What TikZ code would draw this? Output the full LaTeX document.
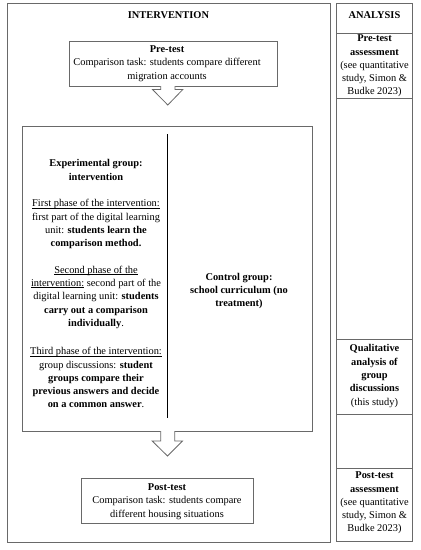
\documentclass[tikz,border=0pt]{standalone}
\usepackage{fontspec}
\setmainfont{Liberation Serif}
\newcommand\myul[1]{\setbox0\hbox{#1}\rlap{\rule[-1.3pt]{\wd0}{0.45pt}}\box0\relax}
\begin{document}
\begin{tikzpicture}[x=1pt,y=-1pt,
  frame/.style={draw=linegray,line width=0.8pt},
  boxnode/.style={draw=linegray,line width=0.8pt,inner sep=0pt},
  txt/.style={align=center,inner sep=0pt,font=\fontsize{10.4}{13.3}\selectfont},
  hollow/.style={draw=linegray,line width=0.8pt,fill=white},
  divider/.style={draw=black,line width=1.2pt}]
\definecolor{linegray}{RGB}{105,105,105}
\useasboundingbox (0,0) rectangle (421,550);
% outer frames
\draw[frame] (7.5,3.5) rectangle (330.5,542);
\draw[frame] (336.8,3.5) rectangle (412,541.5);
\draw[frame] (336.8,33) -- (412,33);
\draw[frame] (336.8,98.5) -- (412,98.5);
\draw[frame] (336.8,339) -- (412,339);
\draw[frame] (336.8,414) -- (412,414);
\draw[frame] (336.8,468) -- (412,468);
% headers
\node[txt] (hint) at (168.5,15) {\textbf{INTERVENTION}};
\node[txt] (hana) at (374.5,15) {\textbf{ANALYSIS}};
% pre-test box
\node[boxnode,minimum width=208pt,minimum height=45pt] (pre) at (173,63.5) {};
\node[txt] (pretxt) at (167,63.5) {\textbf{Pre-test}\\Comparison task: students compare different\\migration accounts};
% middle box
\node[boxnode,minimum width=289.3pt,minimum height=304.3pt] (mid) at (167.35,278.85) {};
\coordinate (divtop) at (167.5,134);
\coordinate (divbot) at (167.5,418);
\draw[divider] (divtop) -- (divbot);
\node[txt] (exph) at (96,170) {\textbf{Experimental group:}\\\textbf{intervention}};
\node[txt] (ph1) at (96,224.3) {\myul{First phase of the intervention:}\\first part of the digital learning\\unit: \textbf{students learn the}\\\textbf{comparison method.}};
\node[txt] (ph2) at (96,297.2) {\myul{Second phase of the}\\\myul{intervention:} second part of the\\digital learning unit: \textbf{students}\\\textbf{carry out a comparison}\\\textbf{individually}.};
\node[txt] (ph3) at (96,377.8) {\myul{Third phase of the intervention:}\\group discussions: \textbf{student}\\\textbf{groups compare their}\\\textbf{previous answers and decide}\\\textbf{on a common answer}.};
\node[txt] (ctrl) at (239,291) {\textbf{Control group:}\\\textbf{school curriculum (no}\\\textbf{treatment)}};
% post-test box
\node[boxnode,minimum width=171.3pt,minimum height=45pt] (post) at (167.35,500.5) {};
\node[txt] (posttxt) at (167,501.5) {\textbf{Post-test}\\Comparison task: students compare\\different housing situations};
% hollow arrows
\coordinate (a1) at (167.8,86);
\fill[white] (a1) ++(-6.8,-1) rectangle ++(13.6,4);
\draw[hollow] (a1) ++(-7.1,0) -- ++(0,3.5) -- ++(-8.2,0) -- ++(15.3,15.5) -- ++(15,-15.5) -- ++(-7.8,0) -- ++(0,-3.5);
\coordinate (a2) at (167.8,431);
\fill[white] (a2) ++(-6.8,-1) rectangle ++(13.6,4);
\draw[hollow] (a2) ++(-7.1,0) -- ++(0,10) -- ++(-8.5,0) -- ++(15.3,15) -- ++(15,-15) -- ++(-7.8,0) -- ++(0,-10);
% analysis texts
\node[txt] (preana) at (374.5,66) {\textbf{Pre-test}\\\textbf{assessment}\\(see quantitative\\study, Simon \&\\Budke 2023)};
\node[txt] (qual) at (374.5,376) {\textbf{Qualitative}\\\textbf{analysis of}\\\textbf{group}\\\textbf{discussions}\\(this study)};
\node[txt] (postana) at (374.5,503) {\textbf{Post-test}\\\textbf{assessment}\\(see quantitative\\study, Simon \&\\Budke 2023)};
\end{tikzpicture}
\end{document}
